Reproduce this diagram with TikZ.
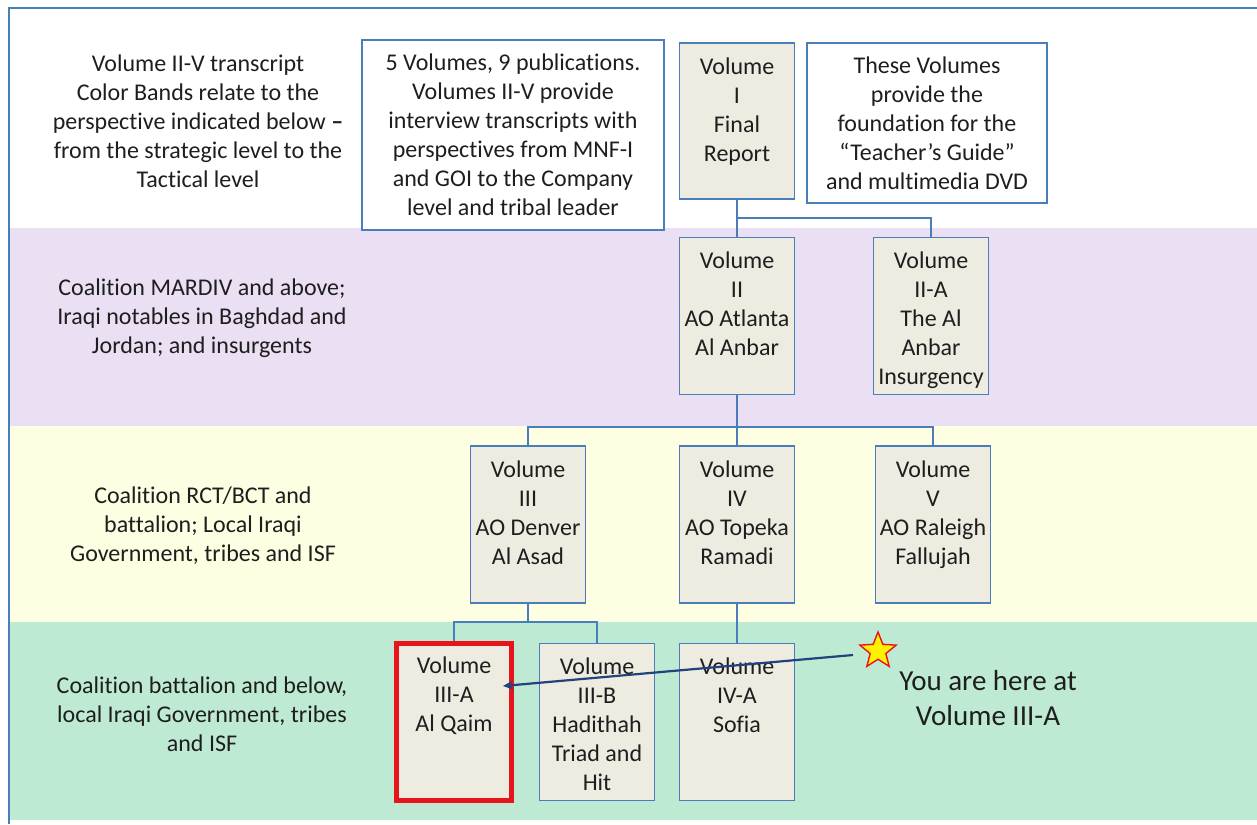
\documentclass[tikz,border=0pt]{standalone}
\usepackage{fontspec}
\setmainfont{Carlito}[RawFeature={-liga}]
\usetikzlibrary{shapes.geometric,arrows.meta}
\definecolor{bandP}{RGB}{235,224,243}
\definecolor{bandY}{RGB}{254,254,226}
\definecolor{bandG}{RGB}{190,234,211}
\definecolor{boxfill}{RGB}{238,236,225}
\definecolor{boxline}{RGB}{74,126,187}
\definecolor{txt}{RGB}{30,30,30}
\definecolor{arrowc}{RGB}{35,66,125}
\definecolor{redline}{RGB}{232,20,27}
\begin{document}
\begin{tikzpicture}[x=1pt,y=-1pt,
 every node/.style={font=\fontsize{24}{29}\selectfont, text=txt},
 volbox/.style={draw=boxline, fill=boxfill, line width=1.6pt, minimum width=115pt, minimum height=157pt, inner sep=0pt},
 voltext/.style={align=center, inner sep=0pt, anchor=north},
 notebox/.style={draw=boxline, fill=white, line width=1.6pt, align=center, inner sep=0pt},
 conn/.style={draw=boxline, line width=1.8pt},
 bandtext/.style={align=center, inner sep=0pt}]
\useasboundingbox (0,0) rectangle (1257,824);
\fill[white] (0,0) rectangle (1257,824);
\fill[bandP] (10,228) rectangle (1257,426);
\fill[bandY] (10,426) rectangle (1257,622);
\fill[bandG] (10,622) rectangle (1257,820);
\draw[boxline, line width=2pt] (9,824) -- (9,8) -- (1257,8);

\node[bandtext] (intro) at (198,121) {Volume II-V transcript\\Color Bands relate to the\\perspective indicated below \textbf{–}\\from the strategic level to the\\Tactical level};
\node[bandtext] (bandp) at (202,318) {Coalition MARDIV and above;\\Iraqi notables in Baghdad and\\Jordan; and insurgents};
\node[bandtext] (bandy) at (203,526) {Coalition RCT/BCT and\\battalion; Local Iraqi\\Government, tribes and ISF};
\node[bandtext] (bandg) at (202,714) {Coalition battalion and below,\\local Iraqi Government, tribes\\and ISF};

\node[notebox, minimum width=302pt, minimum height=190pt] (five) at (513,135) {5 Volumes, 9 publications.\\Volumes II-V provide\\interview transcripts with\\perspectives from MNF-I\\and GOI to the Company\\level and tribal leader};
\node[notebox, minimum width=240pt, minimum height=160pt] (found) at (927,123) {These Volumes\\provide the\\foundation for the\\“Teacher’s Guide”\\and multimedia DVD};

\node[volbox, minimum height=156pt] (v1) at (737,121) {};
\node[volbox] (v2) at (737,316) {};
\node[volbox] (v2a) at (931,316) {};
\node[volbox] (v3) at (528,524.5) {};
\node[volbox] (v4) at (737,524.5) {};
\node[volbox] (v5) at (933,524.5) {};
\node[volbox, draw=redline, line width=4.2pt] (v3a) at (454,722) {};
\node[volbox] (v3b) at (597,722) {};
\node[volbox] (v4a) at (737,722) {};

\draw[conn] (v1.south) -- (v2.north);
\draw[conn] (v1.south |- 0,218) -- (v2a.north |- 0,218) -- (v2a.north);
\draw[conn] (v2.south) -- (v4.north);
\draw[conn] (v3.north) -- (v3.north |- 0,427) -- (v5.north |- 0,427) -- (v5.north);
\draw[conn] (v3.south) -- (v3.south |- 0,622);
\draw[conn] (v3a.north) -- (v3a.north |- 0,622) -- (v3b.north |- 0,622) -- (v3b.north);
\draw[conn] (v4.south) -- (v4a.north);

\node[voltext] (v1t) at ([yshift=-15pt]v1.north) {Volume\\I\\Final\\Report};
\node[voltext] (v2t) at ([yshift=-15pt]v2.north) {Volume\\II\\AO Atlanta\\Al Anbar};
\node[voltext] (v2at) at ([yshift=-15pt]v2a.north) {Volume\\II-A\\The Al\\Anbar\\Insurgency};
\node[voltext] (v3t) at ([yshift=-15pt]v3.north) {Volume\\III\\AO Denver\\Al Asad};
\node[voltext] (v4t) at ([yshift=-15pt]v4.north) {Volume\\IV\\AO Topeka\\Ramadi};
\node[voltext] (v5t) at ([yshift=-15pt]v5.north) {Volume\\V\\AO Raleigh\\Fallujah};
\node[voltext] (v3at) at ([yshift=-15pt]v3a.north) {Volume\\III-A\\Al Qaim};
\node[voltext] (v3bt) at ([yshift=-15pt]v3b.north) {Volume\\III-B\\Hadithah\\Triad and\\Hit};
\node[voltext] (v4at) at ([yshift=-15pt]v4a.north) {Volume\\IV-A\\Sofia};

\node[star, star points=5, star point ratio=2.3, minimum size=38pt, inner sep=0pt, fill=yellow, draw=redline, line width=1.4pt] (star) at (878,651) {};
\node[align=center, inner sep=0pt, anchor=north, font=\fontsize{29}{35}\selectfont] (here) at (988,670) {You are here at\\Volume III-A};

\coordinate (tail) at (853,655);
\coordinate (tip) at (503,686);
\draw[arrowc, line width=2.2pt, -{Stealth[length=10pt,width=9pt]}] (tail) -- (tip);
\end{tikzpicture}
\end{document}
